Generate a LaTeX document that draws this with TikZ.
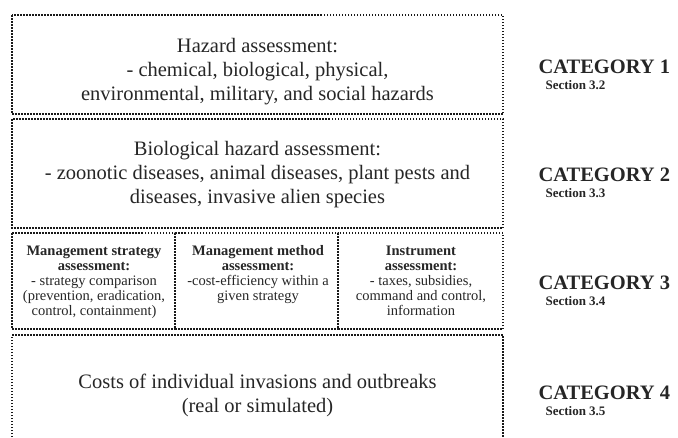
\documentclass[tikz,border=0pt]{standalone}
\usepackage{fontspec}
\setmainfont{Liberation Serif}
\begin{document}
\begin{tikzpicture}[x=1pt,y=1pt,
  dotline/.style={draw=black!90, line width=1.5pt, dash pattern=on 1.5pt off 1.5pt},
  big/.style={font=\fontsize{20.5}{24}\selectfont, align=center, text=black!85},
  small/.style={font=\fontsize{14.5}{15}\selectfont, align=center, text=black!85},
  cat/.style={font=\bfseries\fontsize{20.5}{22}\selectfont, anchor=west, text=black!85},
  sec/.style={font=\bfseries\fontsize{13}{14}\selectfont, anchor=west, text=black!85}]
\useasboundingbox (0,0) rectangle (678,-437);
% boxes
\draw[dotline] (12,-15) rectangle (503,-114);
\draw[dotline] (12,-119) rectangle (503,-228);
\draw[dotline] (12,-233) rectangle (175,-329);
\draw[dotline] (175,-233) rectangle (338,-329);
\draw[dotline] (338,-233) rectangle (503,-329);
\draw[dotline] (12,-440) -- (12,-335) -- (503,-335) -- (503,-440);
% texts
\node[big] (t1) at (257.5,-72) {Hazard assessment:\\- chemical, biological, physical,\\environmental, military, and social hazards};
\node[big] (t2) at (257.5,-175) {Biological hazard assessment:\\- zoonotic diseases, animal diseases, plant pests and\\diseases, invasive alien species};
\node[small, anchor=north] (t3a) at (94,-242) {\textbf{Management strategy}\\\textbf{assessment:}\\- strategy comparison\\(prevention, eradication,\\control, containment)};
\node[small, anchor=north] (t3b) at (258,-242) {\textbf{Management method}\\\textbf{assessment:}\\-cost-efficiency within a\\given strategy};
\node[small, anchor=north] (t3c) at (421,-242) {\textbf{Instrument}\\\textbf{assessment:}\\- taxes, subsidies,\\command and control,\\information};
\node[big] (t4) at (257.5,-395) {Costs of individual invasions and outbreaks\\(real or simulated)};
% categories
\node[cat] (c1) at (535,-67) {CATEGORY 1};
\node[sec] (s1) at (542,-85) {Section 3.2};
\node[cat] (c2) at (535,-175) {CATEGORY 2};
\node[sec] (s2) at (542,-193) {Section 3.3};
\node[cat] (c3) at (535,-283) {CATEGORY 3};
\node[sec] (s3) at (542,-301) {Section 3.4};
\node[cat] (c4) at (535,-393) {CATEGORY 4};
\node[sec] (s4) at (542,-411) {Section 3.5};
\end{tikzpicture}
\end{document}
